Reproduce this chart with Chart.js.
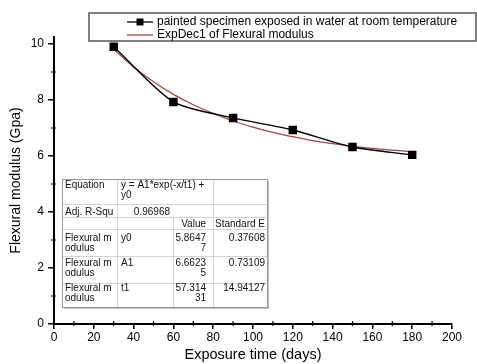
<!DOCTYPE html>
<html>
<head>
<meta charset="utf-8">
<script src="https://cdn.jsdelivr.net/npm/chart.js@4.4.1/dist/chart.umd.min.js"></script>
<style>
  html, body { margin: 0; padding: 0; background: #fff; }
  #wrap { width: 477px; height: 364px; }
</style>
</head>
<body>
<div id="wrap"><canvas id="myChart" width="477" height="364"></canvas></div>
<script>
// measured points
const days = [30, 60, 90, 120, 150, 180];
const modulus = [9.9, 7.93, 7.36, 6.93, 6.32, 6.04];

// ExpDec1 fit curve
const fitDays = [30, 40, 50, 60, 70, 80, 90, 100, 110, 120, 130, 140, 150, 160, 170, 180];
const fitModulus = [9.81, 9.18, 8.65, 8.20, 7.83, 7.52, 7.25, 7.03, 6.84, 6.69, 6.55, 6.44, 6.35, 6.27, 6.21, 6.15];

const seriesLabels = ['painted specimen exposed in water at room temperature', 'ExpDec1 of Flexural modulus'];
const xTicks = [0, 20, 40, 60, 80, 100, 120, 140, 160, 180, 200];
const yTicks = [0, 2, 4, 6, 8, 10];

// fit results table
const tableHead = ['', '', 'Value', 'Standard E'];
const paramRows = [
  ['Flexural m|odulus', 'y0', '5.8647|7', '0.37608'],
  ['Flexural m|odulus', 'A1', '6.6623|5', '0.73109'],
  ['Flexural m|odulus', 't1', '57.314|31', '14.94127']
];
const equationText = 'y = A1*exp(-x/t1) +|y0';
const adjR2 = '0.96968';

const FONT = 'Arial, "Liberation Sans", sans-serif';
const fitColor = '#9c4b43';

// legend + table + minor ticks
const extras = {
  id: 'extras',
  afterDraw(chart) {
    const ctx = chart.ctx;
    const xs = chart.scales.x, ys = chart.scales.y;
    ctx.save();

    // minor ticks
    ctx.strokeStyle = '#000';
    ctx.lineWidth = 1.2;
    ctx.beginPath();
    for (let i = 0; i < xTicks.length - 1; i++) {
      const px = xs.getPixelForValue((xTicks[i] + xTicks[i + 1]) / 2);
      ctx.moveTo(px, ys.bottom - 3); ctx.lineTo(px, ys.bottom + 2);
    }
    for (let i = 0; i < yTicks.length - 1; i++) {
      const py = ys.getPixelForValue((yTicks[i] + yTicks[i + 1]) / 2);
      ctx.moveTo(xs.left + 2, py); ctx.lineTo(xs.left - 3, py);
    }
    ctx.stroke();

    // legend
    ctx.fillStyle = '#fff';
    ctx.fillRect(89, 13, 387, 28);
    ctx.strokeStyle = '#555';
    ctx.lineWidth = 1.5;
    ctx.strokeRect(89, 13, 387, 28);
    ctx.lineWidth = 1.3;
    ctx.strokeStyle = '#000';
    ctx.beginPath(); ctx.moveTo(127, 22); ctx.lineTo(153, 22); ctx.stroke();
    ctx.fillStyle = '#000';
    ctx.fillRect(136.5, 18.5, 7, 7);
    ctx.strokeStyle = fitColor;
    ctx.beginPath(); ctx.moveTo(127, 35); ctx.lineTo(153, 35); ctx.stroke();
    ctx.font = '12px ' + FONT;
    ctx.textBaseline = 'middle';
    ctx.textAlign = 'left';
    ctx.fillText(chart.data.datasets[0].label, 157, 22);
    ctx.fillText(chart.data.datasets[1].label, 157, 35);

    // table
    const tx = 62, ty = 179, tw = 205, th = 128;
    ctx.fillStyle = 'rgba(0,0,0,0.25)';
    ctx.fillRect(tx + 2, ty + 2, tw, th);
    ctx.fillStyle = '#fff';
    ctx.fillRect(tx, ty, tw, th);
    ctx.strokeStyle = '#d4d4d4';
    ctx.lineWidth = 1;
    ctx.beginPath();
    [204, 217, 229, 256, 283].forEach(y => { ctx.moveTo(tx, y + 0.5); ctx.lineTo(tx + tw, y + 0.5); });
    ctx.moveTo(117.5, ty); ctx.lineTo(117.5, ty + th);
    ctx.moveTo(173.5, 217); ctx.lineTo(173.5, ty + th);
    ctx.moveTo(213.5, ty); ctx.lineTo(213.5, ty + th);
    ctx.stroke();
    ctx.strokeStyle = '#9a9a9a';
    ctx.strokeRect(tx + 0.5, ty + 0.5, tw, th);

    ctx.fillStyle = '#111';
    ctx.font = '10px ' + FONT;
    const cell = (txt, x, y, align) => {
      ctx.textAlign = align;
      txt.split('|').forEach((s, k) => ctx.fillText(s, x, y + k * 10.5));
    };
    cell('Equation', 65, 185, 'left');
    cell(equationText, 121, 185, 'left');
    cell('Adj. R-Squ', 65, 212, 'left');
    cell(adjR2, 170, 212, 'right');
    cell(tableHead[2], 206, 224, 'right');
    cell(tableHead[3], 265, 224, 'right');
    const rowY = [238, 263, 288];
    paramRows.forEach((r, i) => {
      cell(r[0], 65, rowY[i], 'left');
      cell(r[1], 121, rowY[i], 'left');
      cell(r[2], 206, rowY[i], 'right');
      cell(r[3], 265, rowY[i], 'right');
    });
    ctx.restore();
  }
};

new Chart(document.getElementById('myChart'), {
  type: 'line',
  data: {
    datasets: [{
      label: seriesLabels[0],
      data: days.map((d, i) => ({ x: d, y: modulus[i] })),
      borderColor: '#000',
      backgroundColor: '#000',
      borderWidth: 1.4,
      pointStyle: 'rect',
      pointRadius: 5,
      pointHoverRadius: 5,
      tension: 0.25
    }, {
      label: seriesLabels[1],
      data: fitDays.map((d, i) => ({ x: d, y: fitModulus[i] })),
      borderColor: fitColor,
      borderWidth: 1.3,
      pointRadius: 0,
      tension: 0.4
    }]
  },
  options: {
    responsive: false,
    animation: false,
    events: [],
    layout: { padding: { top: 37, right: 25, left: 0, bottom: 0 } },
    plugins: { legend: { display: false }, tooltip: { enabled: false } },
    scales: {
      x: {
        type: 'linear',
        min: 0, max: 200,
        afterFit: s => { s.height = 40; },
        afterBuildTicks: s => { s.ticks = xTicks.map(v => ({ value: v })); },
        grid: { display: true, drawOnChartArea: false, color: '#000', lineWidth: 1.5, tickLength: 5 },
        border: { display: true, color: '#000', width: 2 },
        ticks: { color: '#000', font: { family: FONT, size: 12 }, padding: 1, maxRotation: 0 },
        title: { display: true, text: 'Exposure time (days)', color: '#000', font: { family: FONT, size: 14.5 }, padding: { top: 0, bottom: 0 } }
      },
      y: {
        min: 0, max: 10.25,
        afterFit: s => { s.width = 54; },
        afterBuildTicks: s => { s.ticks = yTicks.map(v => ({ value: v })); },
        grid: { display: true, drawOnChartArea: false, color: '#000', lineWidth: 1.5, tickLength: 6 },
        border: { display: true, color: '#000', width: 2 },
        ticks: { color: '#000', font: { family: FONT, size: 12 }, padding: 4 },
        title: { display: true, text: 'Flexural modulus (Gpa)', color: '#000', font: { family: FONT, size: 14 }, padding: { top: 8, bottom: 0 } }
      }
    }
  },
  plugins: [extras]
});
</script>
</body>
</html>
